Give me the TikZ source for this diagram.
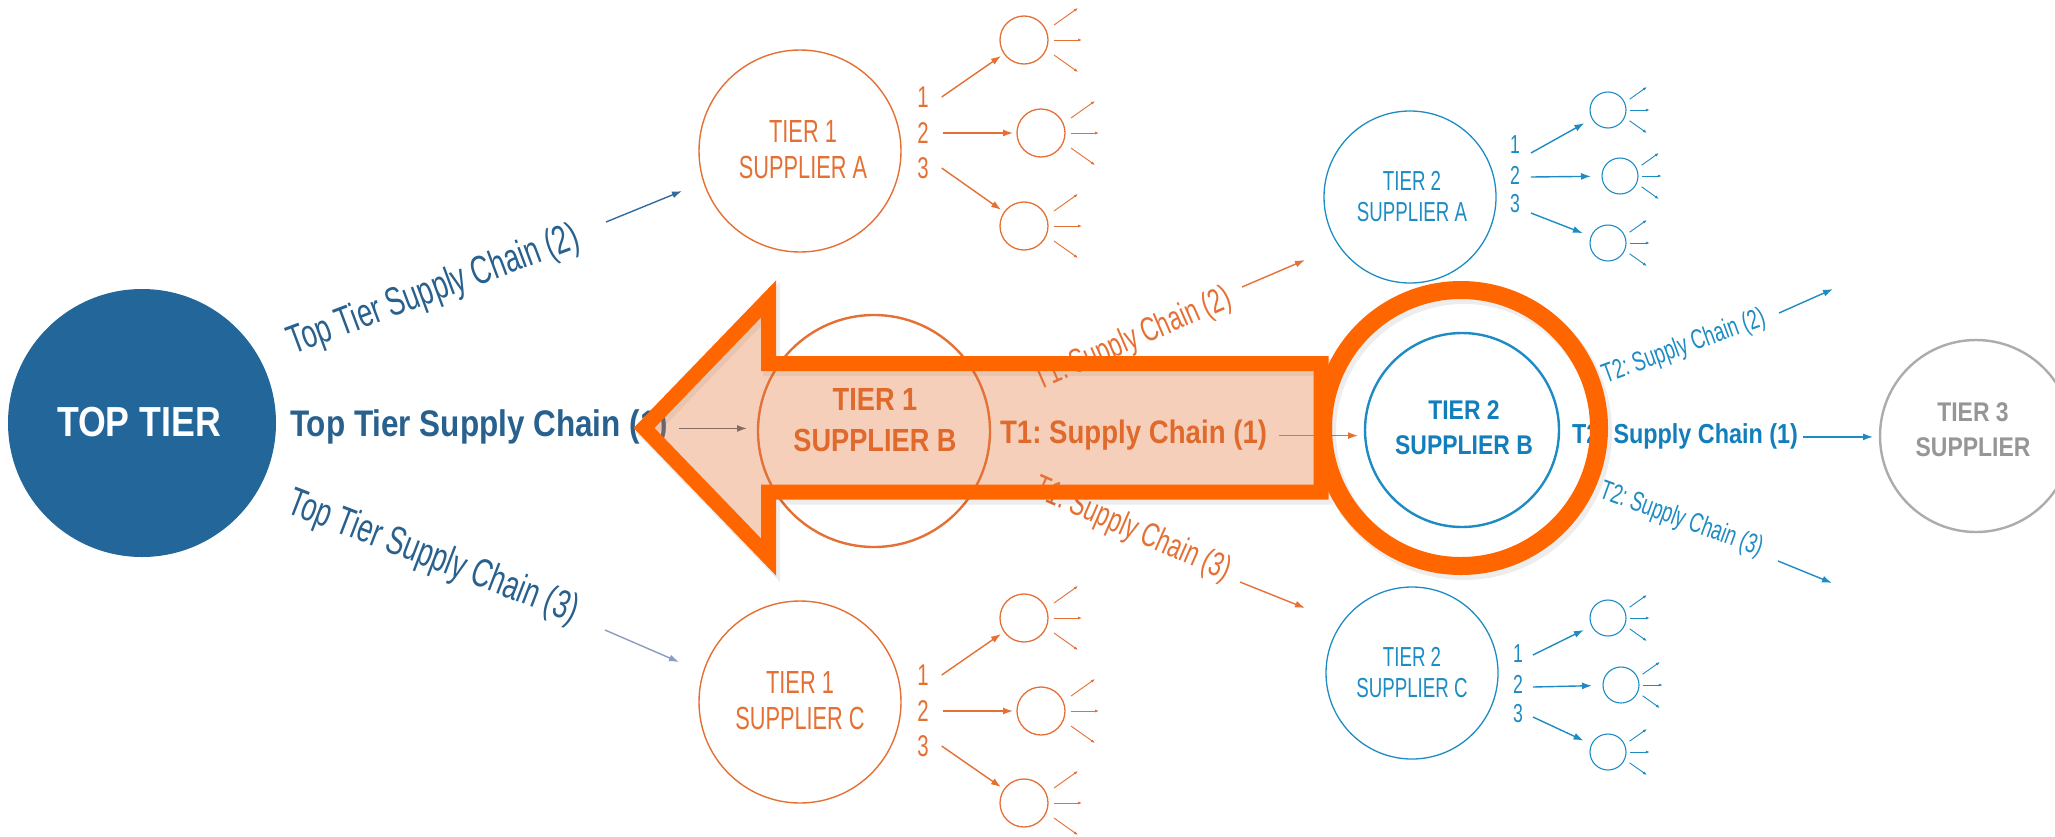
\documentclass[tikz,border=0pt]{standalone}
\usepackage{fontspec}
\setmainfont{Liberation Sans}
\newfontfamily\condreg[FakeStretch=0.68]{Liberation Sans}
\newfontfamily\condbold[FakeStretch=0.85]{Liberation Sans}
\usetikzlibrary{arrows.meta,calc}
\frenchspacing

\definecolor{ttblue}{RGB}{35,103,154}
\definecolor{ttlabel}{RGB}{40,96,142}
\definecolor{ttlinkA}{RGB}{82,102,125}
\definecolor{ttlinkB}{RGB}{50,108,158}
\definecolor{ttlinkC}{RGB}{140,156,190}
\definecolor{tone}{RGB}{229,112,52}
\definecolor{tonebold}{RGB}{222,98,36}
\definecolor{ttwo}{RGB}{30,140,196}
\definecolor{ttwobold}{RGB}{18,126,188}
\definecolor{tthreeline}{RGB}{172,172,172}
\definecolor{tthreetext}{RGB}{150,150,150}
\definecolor{hl}{RGB}{255,102,0}
\definecolor{hlfill}{RGB}{228,120,60}

\newcommand\fs[2]{\fontsize{#1}{#2}\selectfont}
% three little outgoing rays on the right of a small circle
\newcommand\sunrays[3]{%
  \draw[ray,draw=#3] ($(#1)+(30*#2,-15*#2)$) -- ($(#1)+(54*#2,-32*#2)$);
  \draw[ray,draw=#3] ($(#1)+(30*#2,0)$) -- ($(#1)+(58*#2,0)$);
  \draw[ray,draw=#3] ($(#1)+(30*#2,15*#2)$) -- ($(#1)+(54*#2,32*#2)$);
}

\begin{document}
\begin{tikzpicture}[x=1pt,y=-1pt,
  every node/.style={inner sep=0pt,outer sep=0pt},
  ring/.style={circle,draw,inner sep=0pt},
  lbl/.style={align=center,inner sep=0pt},
  num/.style={inner sep=0pt},
  link/.style={line width=1.4pt,-{Latex[length=10pt,width=7pt]}},
  ray/.style={line width=0.9pt,-{Latex[length=4pt,width=3pt]}},
]
\useasboundingbox (0,0) rectangle (2055,836);
\clip (0,0) rectangle (2055,836);
\fill[white] (0,0) rectangle (2055,836);

% ---------- top tier ----------
\node[circle,fill=ttblue,minimum size=268pt] (top) at (142,423) {};
\node[anchor=base,text=white,font=\condbold\bfseries\fs{42}{48}] (topname) at (139,436) {TOP TIER};

\node[anchor=base west,text=ttlabel,font=\condbold\bfseries\fs{37}{42}] (tt1) at (290,436) {Top Tier Supply Chain (1)};
\node[rotate=20.5,text=ttlabel,font=\condreg\fs{40}{46}] (tt2) at (434,291) {Top Tier Supply Chain (2)};
\node[rotate=-21,text=ttlabel,font=\condreg\fs{40}{46}] (tt3) at (433,558) {Top Tier Supply Chain (3)};

\coordinate (tt2s) at (606,222);
\coordinate (tt2e) at (682,191);
\coordinate (tt3s) at (605,630);
\coordinate (tt3e) at (679,662);
\draw[link,draw=ttlinkB] (tt2s) -- (tt2e);
\draw[link,draw=ttlinkC] (tt3s) -- (tt3e);

% ---------- tier 1 suppliers ----------
\node[ring,draw=tone,line width=1.4pt,minimum size=202pt] (t1a) at (800,151) {};
\node[lbl,text=tone,font=\condreg\fs{32}{36}] (t1aname) at (803,150) {TIER 1\\SUPPLIER A};
\node[ring,draw=tone,line width=2.4pt,minimum size=232pt] (t1b) at (874,431) {};
\node[lbl,text=tonebold,font=\condbold\bfseries\fs{32}{41}] (t1bname) at (875,420) {TIER 1\\SUPPLIER B};
\node[ring,draw=tone,line width=1.4pt,minimum size=202pt] (t1c) at (800,702) {};
\node[lbl,text=tone,font=\condreg\fs{32}{36}] (t1cname) at (800,701) {TIER 1\\SUPPLIER C};

\draw[link,draw=ttlinkA,shorten >=11pt] ($(tt1.east)+(11,2)$) -- ($(tt1.east -| t1b.west)+(0,2)$);

% supplier A fan
\node[num,text=tone,font=\condreg\fs{30}{30}] (t1a1) at (923,97) {1};
\node[num,text=tone,font=\condreg\fs{30}{30}] (t1a2) at (923,133) {2};
\node[num,text=tone,font=\condreg\fs{30}{30}] (t1a3) at (923,168) {3};
\node[ring,draw=tone,line width=1.3pt,minimum size=48pt] (t1as1) at (1024,40) {};
\node[ring,draw=tone,line width=1.3pt,minimum size=48pt] (t1as2) at (1041,133) {};
\node[ring,draw=tone,line width=1.3pt,minimum size=48pt] (t1as3) at (1024,226) {};
\draw[link,draw=tone,shorten >=4pt] ($(t1a1.east)+(13,0)$) -- (t1as1);
\draw[link,draw=tone,shorten >=4pt] ($(t1a2.east)+(14,0)$) -- (t1as2);
\draw[link,draw=tone,shorten >=4pt] ($(t1a3.east)+(13,0)$) -- (t1as3);
\sunrays{t1as1}{1}{tone}
\sunrays{t1as2}{1}{tone}
\sunrays{t1as3}{1}{tone}

% supplier C fan
\node[num,text=tone,font=\condreg\fs{30}{30}] (t1c1) at (923,675) {1};
\node[num,text=tone,font=\condreg\fs{30}{30}] (t1c2) at (923,711) {2};
\node[num,text=tone,font=\condreg\fs{30}{30}] (t1c3) at (923,746) {3};
\node[ring,draw=tone,line width=1.3pt,minimum size=48pt] (t1cs1) at (1024,618) {};
\node[ring,draw=tone,line width=1.3pt,minimum size=48pt] (t1cs2) at (1041,711) {};
\node[ring,draw=tone,line width=1.3pt,minimum size=48pt] (t1cs3) at (1024,803) {};
\draw[link,draw=tone,shorten >=4pt] ($(t1c1.east)+(13,0)$) -- (t1cs1);
\draw[link,draw=tone,shorten >=4pt] ($(t1c2.east)+(14,0)$) -- (t1cs2);
\draw[link,draw=tone,shorten >=4pt] ($(t1c3.east)+(13,0)$) -- (t1cs3);
\sunrays{t1cs1}{1}{tone}
\sunrays{t1cs2}{1}{tone}
\sunrays{t1cs3}{1}{tone}

% tier 1 B outgoing chains
\node[anchor=base west,text=tonebold,font=\condbold\bfseries\fs{32.5}{38}] (t1l1) at (1000,443) {T1: Supply Chain (1)};
\node[rotate=23.5,text=tone,font=\condreg\fs{34}{38}] (t1l2) at (1133,340) {T1: Supply Chain (2)};
\node[rotate=-23.5,text=tone,font=\condreg\fs{34}{38}] (t1l3) at (1132,530) {T1: Supply Chain (3)};
\coordinate (t1l2s) at (1242,287);
\coordinate (t1l2e) at (1305,260);
\coordinate (t1l3s) at (1240,582);
\coordinate (t1l3e) at (1305,608);
\draw[link,draw=tone] (t1l2s) -- (t1l2e);
\draw[link,draw=tone] (t1l3s) -- (t1l3e);

% ---------- tier 2 suppliers ----------
\node[ring,draw=ttwo,line width=1.3pt,minimum size=172pt] (t2a) at (1410,197) {};
\node[lbl,text=ttwo,font=\condreg\fs{27.5}{31}] (t2aname) at (1412,197) {TIER 2\\SUPPLIER A};
\node[ring,draw=ttwo,line width=2.4pt,minimum size=194pt] (t2b) at (1462,430) {};
\node[lbl,text=ttwobold,font=\condbold\bfseries\fs{27}{35}] (t2bname) at (1464,428) {TIER 2\\SUPPLIER B};
\node[ring,draw=ttwo,line width=1.3pt,minimum size=172pt] (t2c) at (1412,673) {};
\node[lbl,text=ttwo,font=\condreg\fs{27.5}{31}] (t2cname) at (1412,673) {TIER 2\\SUPPLIER C};

\draw[link,draw=tone,shorten >=7pt] ($(t1l1.east)+(12,1)$) -- ($(t1l1.east -| t2b.west)+(0,1)$);

% supplier A fan
\node[num,text=ttwo,font=\condreg\fs{26}{26}] (t2a1) at (1515,145) {1};
\node[num,text=ttwo,font=\condreg\fs{26}{26}] (t2a2) at (1515,175) {2};
\node[num,text=ttwo,font=\condreg\fs{26}{26}] (t2a3) at (1515,204) {3};
\node[ring,draw=ttwo,line width=1.1pt,minimum size=36pt] (t2as1) at (1608,110) {};
\node[ring,draw=ttwo,line width=1.1pt,minimum size=36pt] (t2as2) at (1620,176) {};
\node[ring,draw=ttwo,line width=1.1pt,minimum size=36pt] (t2as3) at (1608,243) {};
\draw[link,draw=ttwo,shorten >=9pt] ($(t2a1.east)+(11,8)$) -- (t2as1);
\draw[link,draw=ttwo,shorten >=11pt] ($(t2a2.east)+(11,2)$) -- (t2as2);
\draw[link,draw=ttwo,shorten >=9pt] ($(t2a3.east)+(11,9)$) -- (t2as3);
\sunrays{t2as1}{0.72}{ttwo}
\sunrays{t2as2}{0.72}{ttwo}
\sunrays{t2as3}{0.72}{ttwo}

% supplier C fan
\node[num,text=ttwo,font=\condreg\fs{26}{26}] (t2c1) at (1518,654) {1};
\node[num,text=ttwo,font=\condreg\fs{26}{26}] (t2c2) at (1518,684) {2};
\node[num,text=ttwo,font=\condreg\fs{26}{26}] (t2c3) at (1518,714) {3};
\node[ring,draw=ttwo,line width=1.1pt,minimum size=36pt] (t2cs1) at (1608,618) {};
\node[ring,draw=ttwo,line width=1.1pt,minimum size=36pt] (t2cs2) at (1621,685) {};
\node[ring,draw=ttwo,line width=1.1pt,minimum size=36pt] (t2cs3) at (1608,752) {};
\draw[link,draw=ttwo,shorten >=9pt] ($(t2c1.east)+(10,1)$) -- (t2cs1);
\draw[link,draw=ttwo,shorten >=11pt] ($(t2c2.east)+(10,3)$) -- (t2cs2);
\draw[link,draw=ttwo,shorten >=9pt] ($(t2c3.east)+(10,3)$) -- (t2cs3);
\sunrays{t2cs1}{0.72}{ttwo}
\sunrays{t2cs2}{0.72}{ttwo}
\sunrays{t2cs3}{0.72}{ttwo}

% tier 2 B outgoing chains
\node[anchor=base west,text=ttwobold,font=\condbold\bfseries\fs{27.5}{32}] (t2l1) at (1572,443) {T2: Supply Chain (1)};
\node[rotate=20,text=ttwo,font=\condreg\fs{27.5}{31}] (t2l2) at (1684,347) {T2: Supply Chain (2)};
\node[rotate=-20,text=ttwo,font=\condreg\fs{27.5}{31}] (t2l3) at (1681,520) {T2: Supply Chain (3)};
\coordinate (t2l2s) at (1779,313);
\coordinate (t2l2e) at (1833,289);
\coordinate (t2l3s) at (1778,561);
\coordinate (t2l3e) at (1832,583);
\draw[link,draw=ttwo] (t2l2s) -- (t2l2e);
\draw[link,draw=ttwo] (t2l3s) -- (t2l3e);

% ---------- tier 3 ----------
\node[ring,draw=tthreeline,line width=2.4pt,minimum size=192pt] (t3) at (1976,436) {};
\node[lbl,text=tthreetext,font=\condbold\bfseries\fs{27}{35}] (t3name) at (1973,430) {TIER 3\\SUPPLIER};
\draw[link,draw=ttwo,shorten >=7pt] ($(t2l1.east)+(5,1)$) -- ($(t2l1.east -| t3.west)+(0,1)$);

% ---------- highlight overlay ----------
\draw[line width=17pt,draw=black,opacity=0.07,line join=miter,shift={(3,4)}]
  (644,428) -- (768.5,299) -- (768.5,363.5) -- (1321,363.5) -- (1321,492)
  -- (768.5,492) -- (768.5,557) -- cycle;
\draw[line width=15pt,draw=hl,fill=hlfill,fill opacity=0.35,line join=miter]
  (644,428) -- (768.5,299) -- (768.5,363.5) -- (1321,363.5) -- (1321,492)
  -- (768.5,492) -- (768.5,557) -- cycle;

\draw[line width=20pt,draw=black,opacity=0.07] (1464,432) circle[radius=138];
\node[circle,draw=hl,line width=18pt,minimum size=276pt] (focus) at (1461,428) {};
\end{tikzpicture}
\end{document}
